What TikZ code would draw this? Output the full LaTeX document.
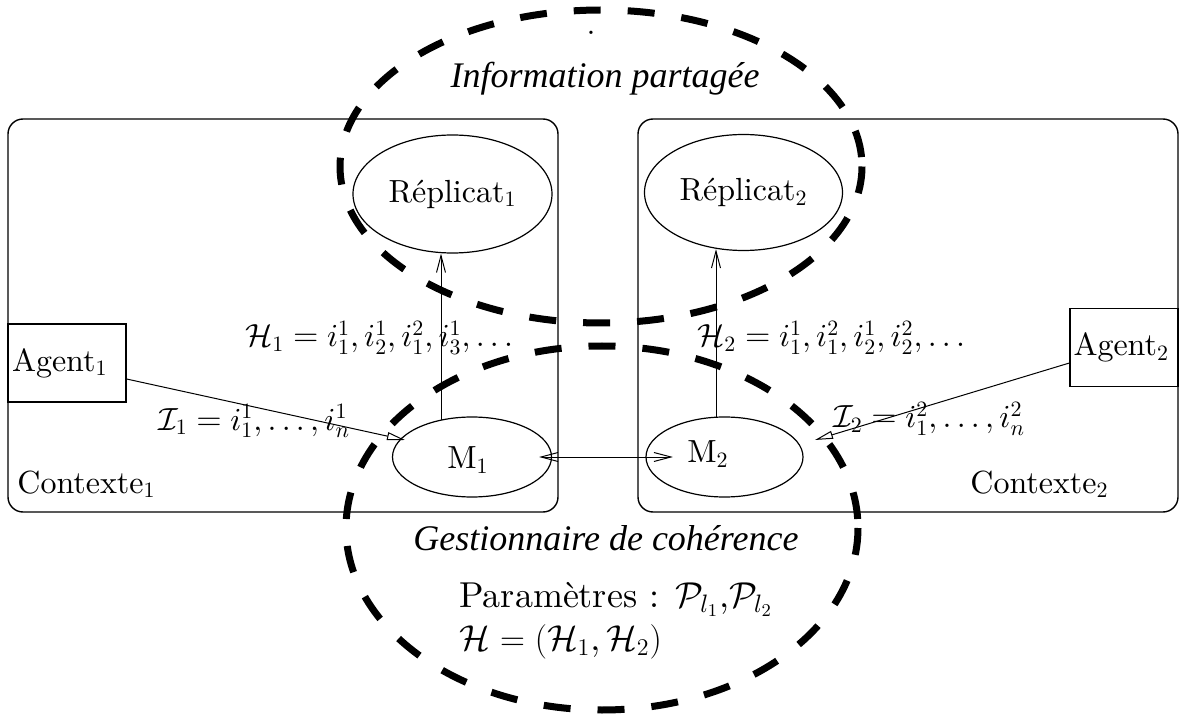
\documentclass[tikz,border=0pt]{standalone}
\usepackage{fontspec}
\setmainfont{lmroman10-regular.otf}[ItalicFont=lmroman10-italic.otf, BoldFont=lmroman10-bold.otf]
\newfontfamily\timesfont{Liberation Serif}
\DeclareFontShape{OML}{cmm}{m}{it}{<->cmmi10}{}
\DeclareFontShape{OMS}{cmsy}{m}{n}{<->cmsy10}{}
\usetikzlibrary{arrows.meta,shapes.geometric,calc}
\begin{document}
\begin{tikzpicture}[x=0.5pt,y=-0.5pt,
  ctx/.style={draw, line width=0.7pt, rounded corners=7.5pt, inner sep=0},
  ell/.style={draw, ellipse, line width=0.6pt, inner sep=0},
  agentbox/.style={draw, rectangle, line width=0.6pt, inner xsep=1.75pt, inner ysep=0, minimum height=39pt, align=left},
  lbl/.style={font=\fontsize{16}{19}\selectfont, inner sep=0},
  biglbl/.style={font=\fontsize{18}{22}\selectfont, inner sep=0},
  itlbl/.style={font=\timesfont\itshape\fontsize{18}{22}\selectfont, inner sep=0},
  arr/.style={-{Straight Barb[length=8.5pt,width=4.5pt]}, line width=0.5pt},
  arrtri/.style={-{Triangle[open,length=9pt,width=4pt]}, line width=0.5pt},
  darr/.style={{Straight Barb[length=8.5pt,width=4.5pt]}-{Straight Barb[length=8.5pt,width=4.5pt]}, line width=0.5pt},
  bigdash/.style={line width=3.5pt, dash pattern=on 13.5pt off 13.5pt}]
\useasboundingbox (0,0) rectangle (1180,717);

% context frames
\node (C1) [ctx, minimum width=275pt, minimum height=196.5pt] at (283,315.5) {};
\node (C2) [ctx, minimum width=270pt, minimum height=196.5pt] at (908,315.5) {};

% replicas
\node (R1) [ell, minimum width=99.5pt, minimum height=59pt, lbl] at (452.5,194) {Réplicat$_1$};
\node (R2) [ell, minimum width=99pt, minimum height=58pt, lbl] at (743.5,192.5) {Réplicat$_2$};

% managers
\node (M1) [ell, minimum width=79.5pt, minimum height=40pt] at (472,457) {};
\node (M2) [ell, minimum width=78.5pt, minimum height=40pt] at (724.5,457) {};
\node (M1t) [lbl] at (468,460) {M$_1$};
\node (M2t) [lbl] at (708,454) {M$_2$};

% agents
\node (A1) [agentbox, lbl, text width=55pt, minimum width=59pt] at (67,363) {Agent$_1$};
\node (A2) [agentbox, lbl, text width=50.5pt, minimum width=54pt] at (1124,347.5) {Agent$_2$};

% labels
\node (dot) [lbl, anchor=base] at (591,35) {.};
\node (IP) [itlbl, anchor=base] at (605,88) {Information partagée};
\node (H1) [lbl, anchor=base west] at (245,347) {$\mathcal{H}_1 = i_1^1, i_2^1, i_1^2, i_3^1, \ldots$};
\node (H2) [lbl, anchor=base west] at (697,347) {$\mathcal{H}_2 = i_1^1, i_1^2, i_2^1, i_2^2, \ldots$};
\node (I1) [lbl, anchor=base west] at (158,430) {$\mathcal{I}_1 = i_1^1, \ldots, i_n^1$};
\node (I2) [lbl, anchor=base west] at (833,428) {$\mathcal{I}_2 = i_1^2, \ldots, i_n^2$};
\node (X1) [lbl, anchor=base west] at (17,493) {Contexte$_1$};
\node (X2) [lbl, anchor=base west] at (970,493) {Contexte$_2$};
\node (GC) [itlbl, anchor=base] at (606,550) {Gestionnaire de cohérence};
\node (PA) [biglbl, anchor=base west] at (459,607) {Paramètres : $\mathcal{P}_{l_1}$,$\mathcal{P}_{l_2}$};
\node (HH) [biglbl, anchor=base west] at (459,650) {$\mathcal{H} = (\mathcal{H}_1, \mathcal{H}_2)$};

% connectors
\coordinate (m1top) at ($(M1.center)+(-31,-37)$);
\coordinate (m2top) at ($(M2.center)+(-8.5,-40)$);
\draw[arr] (m1top) -- (m1top |- R1.south);
\draw[arr] (m2top) -- ($(m2top |- R2.south)+(0,-2)$);
\draw[darr] ($(M1.east)+(-13,0)$) -- ($(M2.west)+(27.5,0)$);
\draw[arrtri] ($(A1.east)+(0,16)$) -- ($(M1.center)+(-67,-17)$);
\draw[arrtri] ($(A2.west)+(0,15.5)$) -- ($(M2.center)+(90.5,-17)$);

% shared zones
\draw[bigdash] (601,166.5) ellipse [x radius=261, y radius=156.5];
\draw[bigdash] (602,528) ellipse [x radius=256, y radius=182];
\end{tikzpicture}
\end{document}
